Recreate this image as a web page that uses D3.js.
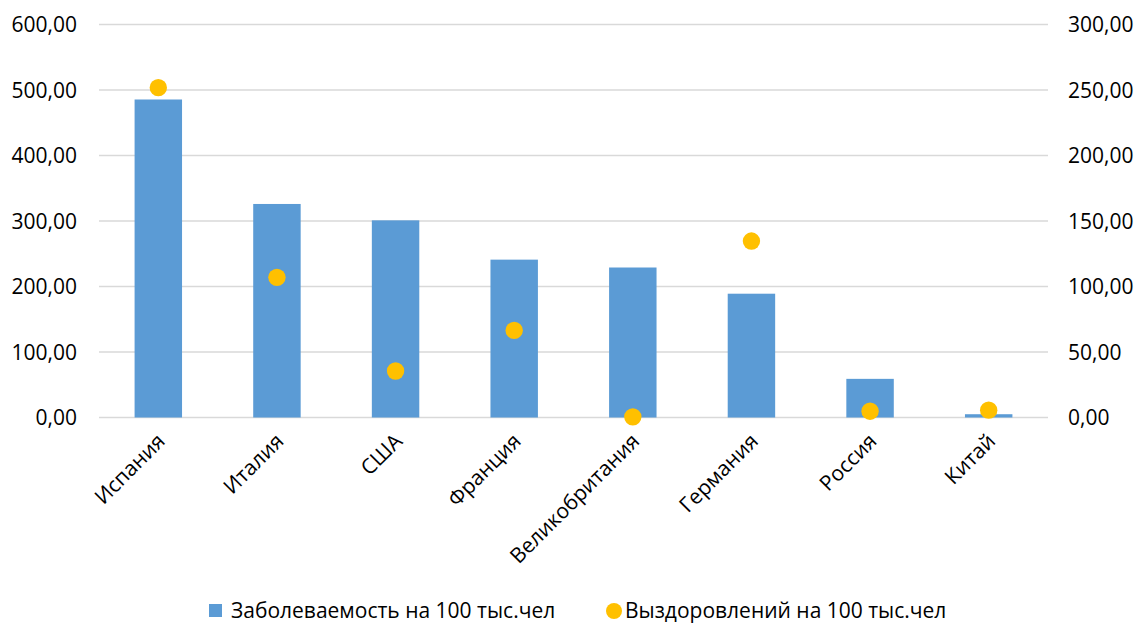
<!DOCTYPE html>
<html><head><meta charset="utf-8">
<script src="https://cdn.jsdelivr.net/npm/d3@7"></script>
<style>body{margin:0;background:#fff;} svg{display:block;font-family:"Open Sans",sans-serif;}</style>
</head><body><svg id="c" width="1139" height="626"></svg>
<script>
const categories = ["Испания","Италия","США","Франция","Великобритания","Германия","Россия","Китай"];
const incidence = [485.5, 326, 301, 241, 229, 189, 59, 5];
const recovered = [251.8, 107, 35.5, 66.5, 0.5, 134.7, 4.8, 5.6];
const leftTicks = [0,100,200,300,400,500,600];
const rightTicks = [0,50,100,150,200,250,300];
const seriesNames = ["Заболеваемость на 100 тыс.чел","Выздоровлений на 100 тыс.чел"];

const svg = d3.select("#c");
const L = 99, R = 1048, T = 24.5, B = 417.5;
const FS = 21;
const x = d3.scaleBand().domain(categories).range([L,R]).paddingInner(0.6).paddingOuter(0.3);
const yL = d3.scaleLinear().domain([0,600]).range([B,T]);
const yR = d3.scaleLinear().domain([0,300]).range([B,T]);
const fmt = d => d3.format(".2f")(d).replace(".", ",");

// gridlines
svg.append("g").selectAll("line").data(leftTicks).join("line")
  .attr("x1",L).attr("x2",R).attr("y1",d=>yL(d)).attr("y2",d=>yL(d))
  .attr("stroke","#d9d9d9").attr("stroke-width",1.5);

// left axis
const gl = svg.append("g").attr("transform",`translate(${L-22},0)`)
  .call(d3.axisLeft(yL).tickValues(leftTicks).tickFormat(fmt).tickSize(0).tickPadding(0));
gl.select(".domain").remove();
gl.selectAll("text").attr("font-size",FS).attr("fill","#000").attr("font-family","Open Sans").attr("dy","0.35em");

// right axis
const gr = svg.append("g").attr("transform",`translate(${R+20},0)`)
  .call(d3.axisRight(yR).tickValues(rightTicks).tickFormat(fmt).tickSize(0).tickPadding(0));
gr.select(".domain").remove();
gr.selectAll("text").attr("font-size",FS).attr("fill","#000").attr("font-family","Open Sans").attr("dy","0.35em");

// bars
svg.append("g").selectAll("rect").data(categories).join("rect")
  .attr("x",d=>x(d)).attr("width",x.bandwidth())
  .attr("y",(d,i)=>yL(incidence[i])).attr("height",(d,i)=>B-yL(incidence[i]))
  .attr("fill","#5b9bd5");

// dots
svg.append("g").selectAll("circle").data(categories).join("circle")
  .attr("cx",d=>x(d)+x.bandwidth()/2).attr("cy",(d,i)=>yR(recovered[i]))
  .attr("r",8.7).attr("fill","#ffc000");

// x labels
const gx = svg.append("g").attr("transform",`translate(0,${B})`)
  .call(d3.axisBottom(x).tickSize(0).tickPadding(0));
gx.select(".domain").remove();
gx.selectAll("text").attr("font-size",FS).attr("fill","#000").attr("font-family","Open Sans")
  .attr("text-anchor","end").attr("dy",null).attr("y",0)
  .attr("transform","translate(8,25) rotate(-45)");

// legend
const lg = svg.append("g");
lg.append("rect").attr("x",209).attr("y",604).attr("width",13).attr("height",13).attr("fill","#5b9bd5");
lg.append("text").attr("x",231).attr("y",611).attr("dy","0.35em").attr("font-size",FS).text(seriesNames[0]);
lg.append("circle").attr("cx",614).attr("cy",611).attr("r",8).attr("fill","#ffc000");
lg.append("text").attr("x",625).attr("y",611).attr("dy","0.35em").attr("font-size",FS).text(seriesNames[1]);
</script></body></html>
